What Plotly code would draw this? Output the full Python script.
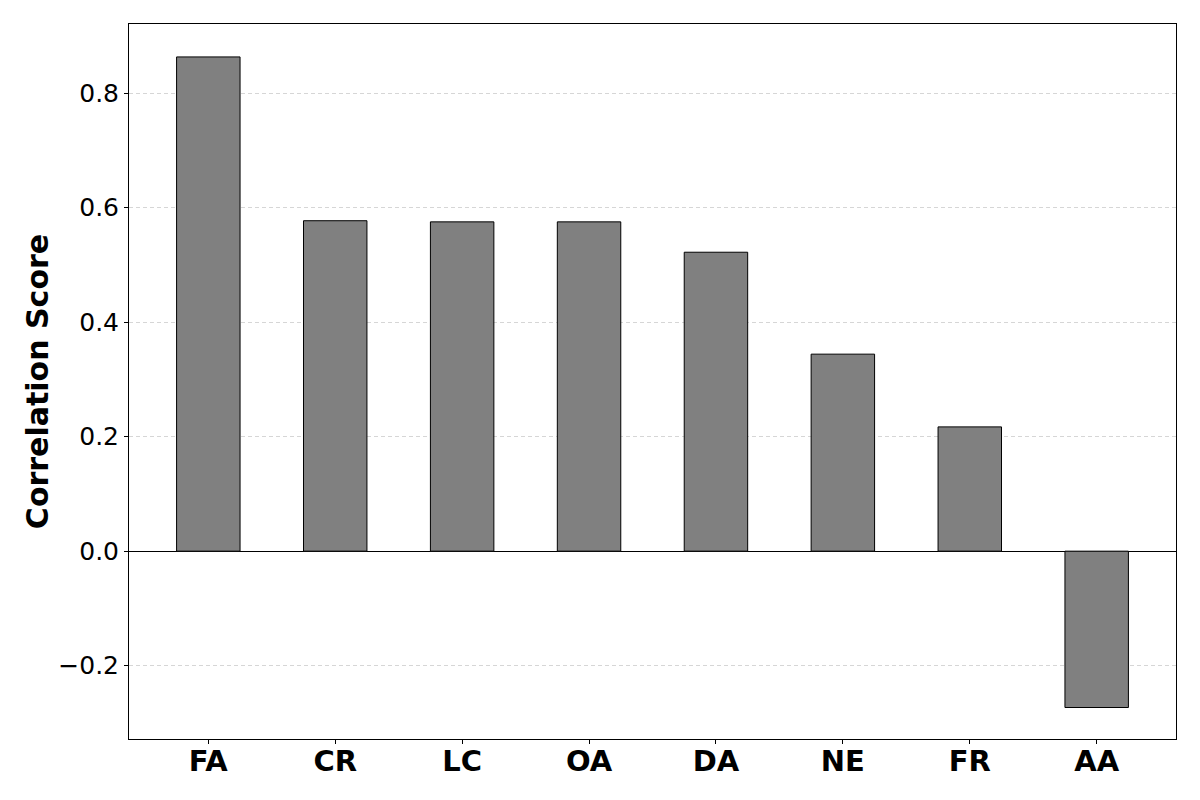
import plotly.graph_objects as go

categories = ["FA", "CR", "LC", "OA", "DA", "NE", "FR", "AA"]
scores = [0.863, 0.577, 0.575, 0.575, 0.522, 0.344, 0.217, -0.273]

FONT = "DejaVu Sans"

positions = list(range(len(categories)))

fig = go.Figure()
fig.add_trace(
    go.Bar(
        x=positions,
        y=scores,
        width=0.5,
        marker=dict(color="#808080", line=dict(color="black", width=1)),
        showlegend=False,
    )
)

fig.update_xaxes(
    range=[-0.625, 7.625],
    tickvals=positions,
    ticktext=[f"<b>{c}</b>" for c in categories],
    tickfont=dict(family=FONT, size=29, color="black"),
    ticks="outside",
    ticklen=4,
    tickcolor="black",
    ticklabelstandoff=-8,
    showline=True,
    linecolor="black",
    linewidth=1,
    mirror=True,
    showgrid=False,
    zeroline=False,
    automargin=False,
)
fig.update_yaxes(
    range=[-0.328, 0.9205],
    tickvals=[-0.2, 0.0, 0.2, 0.4, 0.6, 0.8],
    ticktext=["\u22120.2", "0.0", "0.2", "0.4", "0.6", "0.8"],
    tickfont=dict(family=FONT, size=25, color="black"),
    ticks="outside",
    ticklen=4,
    tickcolor="black",
    showline=True,
    linecolor="black",
    linewidth=1,
    mirror=True,
    showgrid=True,
    gridcolor="#d6d6d6",
    griddash="4px,3px",
    gridwidth=0.8,
    zeroline=True,
    zerolinecolor="black",
    zerolinewidth=1,
    automargin=False,
    title=dict(
        text="<b>Correlation Score</b>",
        font=dict(family=FONT, size=30, color="black"),
        standoff=0,
    ),
)

# page body has an 8px margin, so offsets are shifted accordingly
fig.update_layout(
    width=1200,
    height=800,
    margin=dict(l=121, r=32, t=16, b=69),
    plot_bgcolor="white",
    paper_bgcolor="white",
    font=dict(family=FONT, color="black"),
)

fig.write_html("out.html")
